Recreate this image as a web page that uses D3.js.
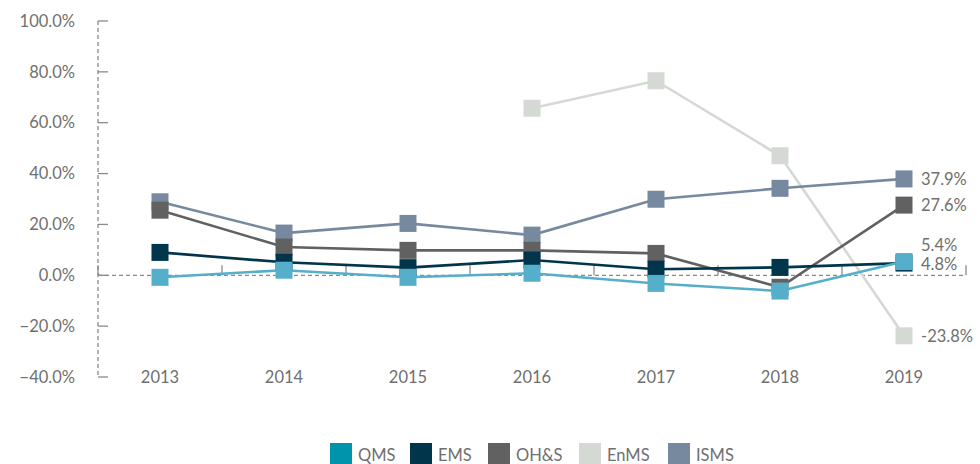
<!DOCTYPE html>
<html><head><meta charset="utf-8">
<script src="https://cdn.jsdelivr.net/npm/d3@7"></script>
<style>
html,body{margin:0;padding:0;background:#fff;}
text{font-family:Lato,"Open Sans",sans-serif;}
</style></head>
<body><svg id="c" width="980" height="464"></svg>
<script>
const years = ["2013","2014","2015","2016","2017","2018","2019"];
const yTicks = [-40,-20,0,20,40,60,80,100];
const QMS  = [-0.8, 2.0, -0.8, 0.8, -3.2, -6.2, 5.4];
const EMS  = [9.0, 5.1, 3.0, 6.0, 2.4, 3.1, 4.8];
const OHS  = [25.6, 11.1, 9.8, 9.8, 8.6, -4.7, 27.6];
const EnMS = [null, null, null, 65.7, 76.5, 47.0, -23.8];
const ISMS = [28.9, 16.6, 20.4, 15.8, 29.9, 34.2, 37.9];
const seriesNames = ["QMS","EMS","OH&S","EnMS","ISMS"];
const legendColors = ["#0093ac","#00354b","#616161","#d4d9d3","#76899e"];
const lineColors = ["#55afca","#00354b","#616161","#d4d9d3","#76899e"];
const endLabels = ["5.4%","4.8%","27.6%","-23.8%","37.9%"];
const labelDy = [-16,1,0,0,0];

const series = [QMS, EMS, OHS, EnMS, ISMS];
const svg = d3.select("#c");
const x = d3.scaleBand().domain(years).range([98,966]);
const y = d3.scaleLinear().domain([-40,100]).range([377,21]);
const txt = "#6f6f6f", axc = "#8a8a8a";

// y axis
const ya = svg.append("g");
ya.append("line").attr("x1",98).attr("x2",98).attr("y1",y(100)).attr("y2",y(-40))
  .attr("stroke",axc).attr("stroke-width",1.3).attr("stroke-dasharray","4,3");
ya.selectAll(".t").data(yTicks).join("line")
  .attr("x1",98).attr("x2",108).attr("y1",d=>y(d)).attr("y2",d=>y(d))
  .attr("stroke",axc).attr("stroke-width",1.3);
ya.selectAll("text").data(yTicks).join("text")
  .attr("x",75).attr("y",d=>y(d)).attr("dy","0.35em").attr("text-anchor","end")
  .attr("fill",txt).attr("font-size",16.5).text(d=>d3.format(".1f")(d)+"%");

// zero line with category boundary ticks
const xa = svg.append("g");
xa.append("line").attr("x1",98).attr("x2",966).attr("y1",y(0)).attr("y2",y(0))
  .attr("stroke",axc).attr("stroke-width",1.3).attr("stroke-dasharray","4,3");
const bounds = [98].concat(years.map(d=>x(d)+x.bandwidth()));
xa.selectAll(".b").data(bounds).join("line")
  .attr("x1",d=>d).attr("x2",d=>d).attr("y1",y(0)).attr("y2",y(0)-10)
  .attr("stroke",axc).attr("stroke-width",1.3);
xa.selectAll("text").data(years).join("text")
  .attr("x",d=>x(d)+x.bandwidth()/2).attr("y",y(-40)).attr("dy","0.35em")
  .attr("text-anchor","middle").attr("fill",txt).attr("font-size",16.5).text(d=>d);

const cx = i => x(years[i]) + x.bandwidth()/2;
const line = d3.line().defined(d=>d.v!=null).x(d=>cx(d.i)).y(d=>y(d.v));
const order = [3,4,2,1,0];
order.forEach(k=>{
  const pts = series[k].map((v,i)=>({v,i}));
  const g = svg.append("g");
  g.append("path").datum(pts).attr("d",line).attr("fill","none")
    .attr("stroke",lineColors[k]).attr("stroke-width",2.6);
  g.selectAll("rect").data(pts.filter(d=>d.v!=null)).join("rect")
    .attr("x",d=>cx(d.i)-8.5).attr("y",d=>y(d.v)-8.5).attr("width",17).attr("height",17)
    .attr("fill",lineColors[k]);
});
// end labels
series.forEach((s,k)=>{
  const last = s[s.length-1];
  svg.append("text").attr("x",cx(6)+17).attr("y",y(last)+labelDy[k]).attr("dy","0.35em")
    .attr("fill",txt).attr("font-size",16.5).text(endLabels[k]);
});

// legend
const lg = svg.append("g");
const lx = [330,410,488,579,668];
seriesNames.forEach((n,k)=>{
  lg.append("rect").attr("x",lx[k]).attr("y",443).attr("width",22).attr("height",22).attr("fill",legendColors[k]);
  lg.append("text").attr("x",lx[k]+28).attr("y",455).attr("dy","0.35em")
    .attr("fill",txt).attr("font-size",16.5).text(n);
});
</script></body></html>
